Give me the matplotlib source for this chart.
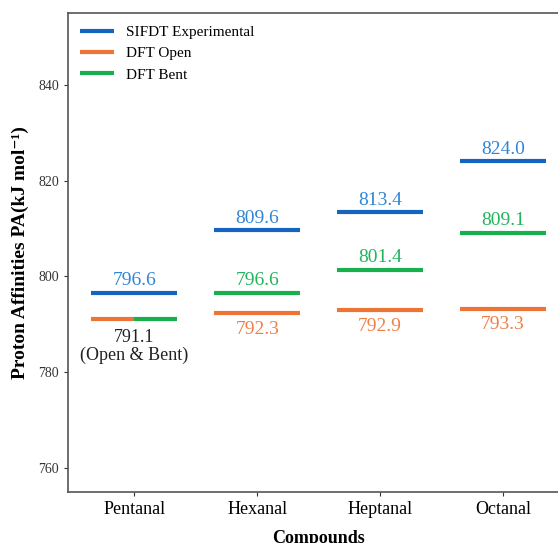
import matplotlib.pyplot as plt

compounds = ['Pentanal', 'Hexanal', 'Heptanal', 'Octanal']
sifdt_exp = [796.6, 809.6, 813.4, 824.0]
dft_open = [791.1, 792.3, 792.9, 793.3]
dft_bent = [791.1, 796.6, 801.4, 809.1]

c_blue = '#1565c0'
c_orange = '#ee7436'
c_green = '#18b04c'
t_blue = '#2f86d6'
t_orange = '#f07f45'
t_green = '#22b45c'

plt.rcParams['font.family'] = ['Liberation Serif', 'DejaVu Serif']

fig = plt.figure(figsize=(5.58, 5.43), dpi=100)
ax = fig.add_axes([0.122, 0.094, 0.898, 0.882])

hw = 0.35
lw = 3
for i, name in enumerate(compounds):
    ax.hlines(sifdt_exp[i], i - hw, i + hw, color=c_blue, lw=lw,
              label='SIFDT Experimental' if i == 0 else None)
    ax.annotate(f'{sifdt_exp[i]:.1f}', (i, sifdt_exp[i]), xytext=(0, 2.5),
                textcoords='offset points', ha='center', va='bottom',
                color=t_blue, fontsize=14)
    if dft_open[i] == dft_bent[i]:
        ax.hlines(dft_open[i], i - hw, i, color=c_orange, lw=lw, label='DFT Open')
        ax.hlines(dft_bent[i], i, i + hw, color=c_green, lw=lw, label='DFT Bent')
        ax.annotate(f'{dft_open[i]:.1f}\n(Open & Bent)', (i, dft_open[i]),
                    xytext=(0, -7), textcoords='offset points', ha='center',
                    va='top', color='#222222', fontsize=13, linespacing=1.05)
    else:
        ax.hlines(dft_open[i], i - hw, i + hw, color=c_orange, lw=lw)
        ax.hlines(dft_bent[i], i - hw, i + hw, color=c_green, lw=lw)
        ax.annotate(f'{dft_open[i]:.1f}', (i, dft_open[i]), xytext=(0, -5.5),
                    textcoords='offset points', ha='center', va='top',
                    color=t_orange, fontsize=14)
        ax.annotate(f'{dft_bent[i]:.1f}', (i, dft_bent[i]), xytext=(0, 2.5),
                    textcoords='offset points', ha='center', va='bottom',
                    color=t_green, fontsize=14)

ax.set_xlim(-0.54, 3.54)
ax.set_ylim(755, 855)
ax.set_xticks(range(len(compounds)))
ax.set_xticklabels(compounds, fontsize=13)
ax.set_yticks([760, 780, 800, 820, 840])
ax.tick_params(axis='y', labelsize=10, colors='#333333', length=3)
ax.tick_params(axis='x', colors='#333333', length=3)
for lab in ax.get_xticklabels():
    lab.set_color('black')
for s in ax.spines.values():
    s.set_color('#555555')
    s.set_linewidth(1.2)

ax.set_ylabel('Proton Affinities PA(kJ mol⁻¹)', fontsize=14,
              fontweight='bold', labelpad=7)
ax.set_xlabel('Compounds', fontsize=13, fontweight='bold', labelpad=9)

ax.legend(loc='upper left', frameon=False, fontsize=11, handlelength=2.2,
          handletextpad=0.8, borderaxespad=0.4, labelspacing=0.5)

fig.savefig('out.png', dpi=100)
